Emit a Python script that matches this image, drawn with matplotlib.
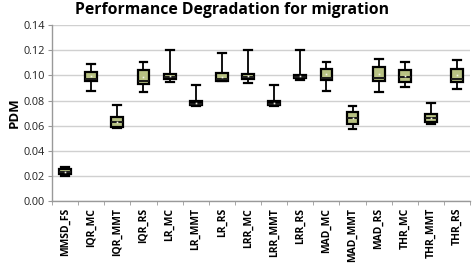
import matplotlib.pyplot as plt

# Data
labels = ['MMSD_FS', 'IQR_MC', 'IQR_MMT', 'IQR_RS', 'LR_MC', 'LR_MMT', 'LR_RS',
          'LRR_MC', 'LRR_MMT', 'LRR_RS', 'MAD_MC', 'MAD_MMT', 'MAD_RS',
          'THR_MC', 'THR_MMT', 'THR_RS']
mins = [0.0202, 0.0879, 0.0582, 0.0866, 0.0945, 0.0757, 0.0958, 0.0943,
        0.0757, 0.0965, 0.0873, 0.0576, 0.0866, 0.0906, 0.0610, 0.0895]
q1s = [0.0213, 0.0956, 0.0592, 0.0934, 0.0975, 0.0762, 0.0958, 0.0971,
       0.0762, 0.0978, 0.0966, 0.0611, 0.0958, 0.0948, 0.0627, 0.0950]
medians = [0.0234, 0.0970, 0.0632, 0.0958, 0.0990, 0.0775, 0.0968, 0.0985,
           0.0775, 0.0990, 0.0983, 0.0660, 0.0977, 0.0985, 0.0660, 0.0970]
q3s = [0.0252, 0.1030, 0.0669, 0.1040, 0.1010, 0.0798, 0.1017, 0.1013,
       0.0798, 0.1005, 0.1054, 0.0709, 0.1065, 0.1045, 0.0696, 0.1054]
maxs = [0.0274, 0.1090, 0.0765, 0.1110, 0.1200, 0.0920, 0.1177, 0.1200,
        0.0920, 0.1200, 0.1105, 0.0753, 0.1130, 0.1105, 0.0783, 0.1125]

stats = []
for lab, lo, a, m, b, hi in zip(labels, mins, q1s, medians, q3s, maxs):
    stats.append({'label': lab, 'whislo': lo, 'q1': a, 'med': m,
                  'q3': b, 'whishi': hi, 'mean': (a + b) / 2})

fig = plt.figure(figsize=(4.73, 2.67), dpi=100)
ax = fig.add_axes([0.110, 0.247, 0.884, 0.659])

box_fill = '#B8C283'
res = ax.bxp(stats, positions=range(len(labels)), widths=0.45, patch_artist=True,
             showmeans=True, showfliers=False,
             boxprops=dict(facecolor=box_fill, edgecolor='black', linewidth=1.6),
             medianprops=dict(color='#1a1a1a', linewidth=1.4),
             whiskerprops=dict(color='black', linewidth=1.3),
             capprops=dict(color='black', linewidth=1.6),
             meanprops=dict(marker='s', markersize=1.2, markerfacecolor='#f4f4e8',
                            markeredgecolor='none'),
             capwidths=0.3)

# the MMT boxes of LR / LRR render solid black in the original
for lab, patch in zip(labels, res['boxes']):
    if lab in ('LR_MMT', 'LRR_MMT'):
        patch.set_facecolor('black')

ax.set_xlim(-0.5, len(labels) - 0.5)
ax.set_ylim(0, 0.14)
ax.set_yticks([0.00, 0.02, 0.04, 0.06, 0.08, 0.10, 0.12, 0.14])
ax.set_yticklabels(['%.2f' % v for v in ax.get_yticks()], fontsize=7.8,
                   family='Open Sans', color='#222222')
ax.set_xticks(range(len(labels)))
ax.set_xticklabels(labels, rotation=90, fontsize=7.5, fontweight='bold',
                   family='Open Sans')
ax.set_xticks([i - 0.5 for i in range(len(labels) + 1)], minor=True)
ax.tick_params(axis='x', which='major', length=0, pad=5)
ax.tick_params(axis='x', which='minor', length=3, color='#999999', direction='out')
ax.tick_params(axis='y', length=3, color='#999999', pad=2)

ax.yaxis.grid(True, color='#d0d0d0', linewidth=1)
ax.set_axisbelow(True)
for side in ['top', 'right']:
    ax.spines[side].set_visible(False)
for side in ['left', 'bottom']:
    ax.spines[side].set_color('#999999')
    ax.spines[side].set_linewidth(1)

ax.set_ylabel('PDM', fontsize=9.5, fontweight='bold', family='Open Sans', labelpad=2)
fig.text(0.49, 0.962, 'Performance Degradation for migration', ha='center',
         va='center', fontsize=11.3, fontweight='bold', family='Open Sans')

fig.savefig('out.png', dpi=100)
